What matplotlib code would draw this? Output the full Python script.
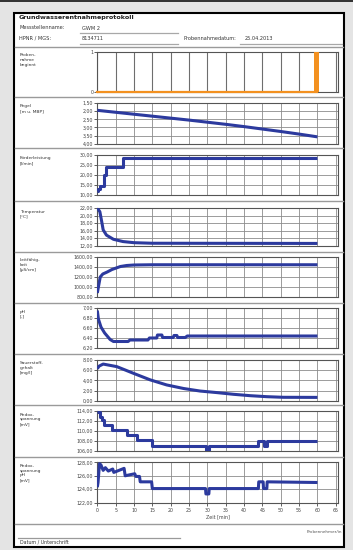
import matplotlib
matplotlib.use('Agg')
import matplotlib.pyplot as plt
from matplotlib.lines import Line2D
from matplotlib.patches import Rectangle

W, H = 353, 550

# header fields
TITLE = 'Grundwasserentnahmeprotokoll'
STATION = 'GWM 2'
HPNR = '8134711'
DATE = '25.04.2013'

X_TICKS = list(range(0, 70, 5))

# sampling marker (orange)
PROBE_T = [59.7]
PROBE_VAL = [1]
PROBE_BASE_T = [0, 60]
PROBE_BASE = [0, 0]

# water level [m u. MBP]
PEGEL_T = [0, 5, 10, 15, 20, 25, 30, 35, 40, 45, 50, 55, 60]
PEGEL = [1.95, 2.07, 2.19, 2.31, 2.43, 2.55, 2.68, 2.81, 2.95, 3.10, 3.25, 3.41, 3.58]

# pumping rate [l/min]
FLOW_T = [0, 0.3, 0.6, 1.6, 1.9, 2.4, 6.8, 7.0, 60]
FLOW = [12.0, 13.0, 14.5, 14.5, 20.0, 24.0, 24.0, 28.3, 28.3]

# temperature [°C]
TEMP_T = [0, 0.3, 0.7, 1.2, 1.6, 2.5, 4.4, 7, 10, 15, 60]
TEMP = [22.0, 21.6, 21.0, 18.4, 16.2, 14.8, 13.7, 13.1, 12.8, 12.65, 12.6]

# conductivity [µS/cm]
COND_T = [0, 0.3, 0.8, 1.5, 2.7, 4, 6.3, 8, 10, 15, 60]
COND = [880, 1000, 1200, 1260, 1300, 1350, 1410, 1430, 1440, 1445, 1445]

# pH [-]
PH_T = [0, 0.3, 1.0, 2.0, 3.5, 4.4, 8.4, 8.9, 13.8, 14.2, 16.2, 16.4, 17.6,
        17.8, 20.7, 20.9, 21.7, 21.9, 24, 24.5, 60]
PH = [6.95, 6.78, 6.62, 6.50, 6.37, 6.33, 6.33, 6.36, 6.36, 6.40, 6.40, 6.46, 6.46,
      6.41, 6.41, 6.45, 6.45, 6.41, 6.41, 6.44, 6.44]

# oxygen [mg/l]
OXY_T = [0, 0.5, 1.6, 5.3, 9.8, 14.4, 18.9, 23.5, 28, 32.5, 37.1, 41.6, 46.2, 50.7, 60]
OXY = [6.3, 6.8, 7.2, 6.7, 5.4, 4.1, 3.1, 2.4, 1.9, 1.6, 1.26, 0.99, 0.79, 0.67, 0.65]

# redox potential [mV] (stepwise)
REDOX_T = [0, 0.7, 1.2, 1.8, 3.9, 8.0, 10.7, 14.8, 29.5, 30.5, 43.9, 45.3, 46.2, 60]
REDOX = [113.9, 112.9, 112.2, 111.2, 110.2, 109.2, 108.2, 107.1, 106.2, 107.1,
         108.1, 107.1, 108.1, 108.1]

# redox potential pH [mV]
REDPH_T = [0, 0.2, 0.6, 1.0, 1.6, 2.2, 3.0, 4.2, 4.5, 7.3, 7.6, 10.2, 10.5, 11.5,
           11.7, 14.8, 15.0, 29.5, 29.6, 30.4, 30.5, 43.9, 44.0, 45.2, 45.3, 46.2,
           46.3, 60]
REDPH = [124.3, 125.0, 127.8, 127.6, 126.8, 127.2, 126.7, 127.0, 126.5, 127.1, 126.0,
         126.3, 125.9, 125.9, 125.1, 125.1, 124.1, 124.1, 123.3, 123.3, 124.1, 124.1,
         125.1, 125.1, 124.1, 124.1, 125.1, 125.0]

LABELS = ['Proben-\nnahme\nbeginnt', 'Pegel\n[m u. MBP]', 'Förderleistung\n[l/min]',
          'Temperatur\n[°C]', 'Leitfähig-\nkeit\n[µS/cm]', 'pH\n[-]',
          'Sauerstoff-\ngehalt\n[mg/l]', 'Redox-\nspannung\n[mV]',
          'Redox-\nspannung\npH\n[mV]']

Y_TICKS = [[0, 1], [1.5, 2.0, 2.5, 3.0, 3.5, 4.0], [10, 15, 20, 25, 30],
           [12, 14, 16, 18, 20, 22], [800, 1000, 1200, 1400, 1600],
           [6.2, 6.4, 6.6, 6.8, 7.0], [0, 2, 4, 6, 8], [106, 108, 110, 112, 114],
           [122, 124, 126, 128]]

# (top, bottom) of each plot box in pixels
BOXES = [(52, 92), (103, 143.7), (155, 194.5), (208, 245.7), (257, 297),
         (308, 348), (360, 400.7), (411, 451), (462.3, 502.7)]
SEPS = [47, 97, 148.3, 201, 251.5, 302.7, 354.3, 405, 456.7, 524]

BLUE = '#2c3a9e'
ORANGE = '#f39120'
GRID = '#8c8c8c'
AX_L, AX_R = 97.3, 338


def fx(x):
    return x / W


def fy(y):
    return 1 - y / H


def de(v):
    return f'{v:.2f}'.replace('.', ',')


def hline(fig, x0, x1, y, color='#a8a8a8', lw=0.9):
    fig.add_artist(Line2D([fx(x0), fx(x1)], [fy(y), fy(y)], color=color, lw=lw,
                          zorder=-5))


fig = plt.figure(figsize=(W / 100, H / 100), dpi=100, facecolor='#e4e4e4')

# page
fig.add_artist(Rectangle((fx(0), fy(1.8)), 1, 1.8 / H, color='#333333', lw=0,
                         zorder=-10))
fig.add_artist(Rectangle((fx(14), fy(547)), fx(343.5 - 14), (547 - 13) / H,
                         facecolor='white', edgecolor='black', lw=1.5, zorder=-10))

# header
fig.text(fx(19), fy(17), TITLE, fontsize=4.6, fontweight='bold', va='center', color='#222')
fig.text(fx(19), fy(27.5), 'Messstellenname:', fontsize=3.6, va='center', color='#333')
fig.text(fx(82), fy(28), STATION, fontsize=3.6, va='center', color='#333')
hline(fig, 80, 178, 32.5)
fig.text(fx(19), fy(38), 'HPNR / MGS:', fontsize=3.6, va='center', color='#333')
fig.text(fx(82), fy(38.5), HPNR, fontsize=3.6, va='center', color='#333')
hline(fig, 80, 178, 43.5)
fig.text(fx(183), fy(38), 'Probennahmedatum:', fontsize=3.6, va='center', color='#333')
fig.text(fx(245), fy(38.5), DATE, fontsize=3.6, va='center', color='#333')
hline(fig, 240, 342, 43.5)

for y in SEPS:
    hline(fig, 15, 342.5, y, color='#9a9a9a', lw=1.0)

series = [(PEGEL_T, PEGEL), (FLOW_T, FLOW), (TEMP_T, TEMP), (COND_T, COND),
          (PH_T, PH), (OXY_T, OXY), (REDOX_T, REDOX), (REDPH_T, REDPH)]
steps = [False, True, False, False, False, False, True, False]

for i, (top, bottom) in enumerate(BOXES):
    ax = fig.add_axes([fx(AX_L), fy(bottom), fx(AX_R - AX_L), (bottom - top) / H])
    ax.set_facecolor('white')
    ax.set_xlim(0, 65.6)
    ax.set_xticks(X_TICKS)
    ticks = Y_TICKS[i]
    ax.set_yticks(ticks)
    if i == 0:
        ax.set_ylim(0, 1)
        ax.set_yticklabels(['0', '1'])
        ax.grid(axis='x', color='#6e6e6e', lw=0.8)
        ax.bar(PROBE_T, PROBE_VAL, width=1.3, color=ORANGE, zorder=3)
        ax.plot(PROBE_BASE_T, PROBE_BASE, color=ORANGE, lw=1.6, zorder=3, clip_on=False)
    else:
        if i == 1:
            ax.set_ylim(ticks[-1], ticks[0])
        else:
            ax.set_ylim(ticks[0], ticks[-1])
        ax.set_yticklabels([de(v) for v in ticks])
        ax.grid(True, color=GRID, lw=0.6)
        t, v = series[i - 1]
        ax.plot(t, v, color=BLUE, lw=2.2, solid_capstyle='butt',
                drawstyle='steps-post' if steps[i - 1] else 'default', zorder=3)
    ax.set_axisbelow(True)
    for s in ax.spines.values():
        s.set_color('#555555')
        s.set_linewidth(0.8)
    ax.tick_params(axis='y', length=2, width=0.6, pad=0.8, labelsize=3.4,
                   colors='#444444')
    if i == len(BOXES) - 1:
        ax.tick_params(axis='x', length=2, width=0.6, pad=1.5, labelsize=3.4,
                       colors='#444444')
        ax.set_xlabel('Zeit [min]', fontsize=3.4, labelpad=1.5, color='#444444')
    else:
        ax.tick_params(axis='x', length=0, labelbottom=False)
    fig.text(fx(20), fy(top + 1.5), LABELS[i], fontsize=3.2, va='top', ha='left',
             color='#333333', linespacing=1.25)

# footer
hline(fig, 18, 180, 537.5, color='#9a9a9a')
fig.text(fx(20), fy(541.5), 'Datum / Unterschrift', fontsize=3.4, va='center', color='#333')
fig.text(fx(342), fy(532), 'Probennehmer/in', fontsize=3.0, va='center', ha='right',
         color='#555')

fig.savefig('out.png', dpi=100, facecolor=fig.get_facecolor())
